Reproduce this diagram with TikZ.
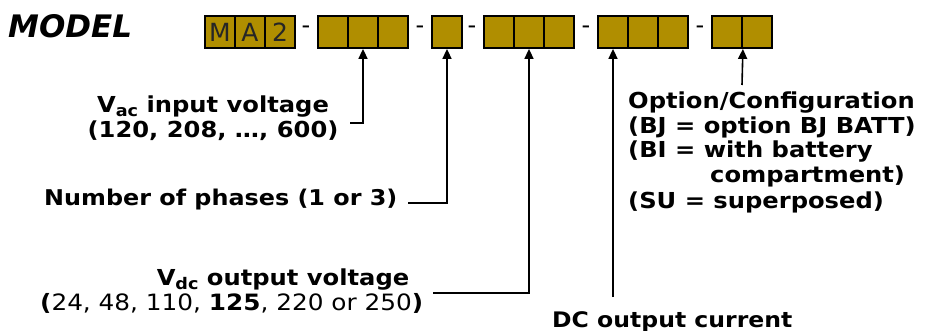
\documentclass[tikz,border=0pt]{standalone}
\usepackage{fontspec}
\setmainfont{DejaVu Sans}
\newfontfamily\lblfont{DejaVu Sans}[FakeStretch=1.1]
\usetikzlibrary{arrows.meta}
\definecolor{boxgold}{RGB}{176,142,0}
\newcommand\lowtxt[1]{\raisebox{-4pt}{\fontsize{16}{16}\selectfont #1}}
\tikzset{
  cell/.style={draw=black, line width=1.8pt, fill=boxgold, minimum width=30pt, minimum height=32pt, inner sep=0pt, font=\fontsize{25}{25}\selectfont, text=black!85},
  sepdash/.style={font=\fontsize{24}{24}\selectfont, inner sep=0pt},
  lbl/.style={font=\lblfont\bfseries\fontsize{22}{25}\selectfont, inner sep=0pt},
  conn/.style={line width=1.6pt, -{Triangle[length=10pt,width=9pt]}}
}
\begin{document}
\begin{tikzpicture}[x=1pt,y=-1pt]
\useasboundingbox (0,0) rectangle (926,331);
\node[font=\bfseries\itshape\fontsize{31}{31}\selectfont, inner sep=0pt, anchor=base west] (model) at (8,38) {MODEL};
\foreach \n/\x/\t in {a1/220/M, a2/250/A, a3/280/2, b1/333/, b2/363/, b3/393/, c1/447/, d1/499/, d2/529/, d3/559/, e1/613/, e2/643/, e3/673/, f1/727/, f2/757/}
  \node[cell] (\n) at (\x,32) {\t};
\foreach \n/\x in {dash1/306, dash2/420, dash3/472, dash4/586, dash5/700}
  \node[sepdash] (\n) at (\x,30) {-};
\coordinate (vacend) at (350,123);
\draw[conn] (vacend) -| (b2.south);
\coordinate (phend) at (408,203);
\draw[conn] (phend) -| (c1.south);
\coordinate (vdcend) at (433,293);
\draw[conn] (vdcend) -| (d2.south);
\coordinate (dcend) at (613,297);
\draw[conn] (dcend) -- (e1.south);
\coordinate (optend) at (742,85);
\draw[conn] (optend) -- (f1.south east);
\node[lbl, anchor=base] (vac1) at (213,113) {V\lowtxt{ac} input voltage};
\node[lbl, anchor=base] (vac2) at (213,138) {(120, 208, …, 600)};
\node[lbl, anchor=base west, font=\lblfont\bfseries\fontsize{21.7}{25}\selectfont] (ph) at (44,206) {Number of phases (1 or 3)};
\node[lbl, anchor=base] (vdc1) at (283,285) {V\lowtxt{dc} output voltage};
\node[lbl, anchor=base west, font=\lblfont\bfseries\fontsize{22.5}{25}\selectfont] (vdc2) at (40,310) {(\textmd{24, 48, 110, }125\textmd{, 220 or 250})};
\node[lbl, anchor=base west, font=\lblfont\bfseries\fontsize{21.4}{25}\selectfont] (dc) at (552,327) {DC output current};
\node[lbl, anchor=base west] (opt1) at (628,109) {Option/Configuration};
\node[lbl, anchor=base west] (opt2) at (628,134) {(BJ = option BJ BATT)};
\node[lbl, anchor=base west] (opt3) at (628,158) {(BI = with battery};
\node[lbl, anchor=base west] (opt4) at (710,183) {compartment)};
\node[lbl, anchor=base west] (opt5) at (628,208) {(SU = superposed)};
\end{tikzpicture}
\end{document}
